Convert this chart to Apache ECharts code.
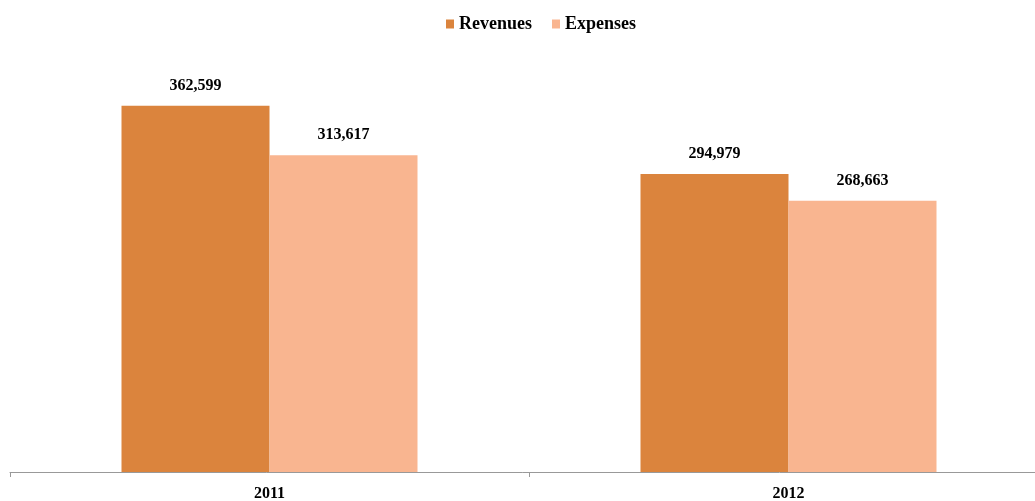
<!DOCTYPE html>
<html>
<head>
<meta charset="utf-8">
<script src="https://cdn.jsdelivr.net/npm/echarts@6/dist/echarts.min.js"></script>
<style>
  html, body { margin: 0; padding: 0; background: #fff; }
  #chart { width: 1035px; height: 501px; }
</style>
</head>
<body>
<div id="chart"></div>
<script>
  var years = ['2011', '2012'];
  var revenues = [362599, 294979];
  var expenses = [313617, 268663];

  var labelFont = {
    show: true,
    position: 'top',
    distance: 12,
    color: '#000',
    fontFamily: 'Liberation Serif',
    fontWeight: 'bold',
    fontSize: 16,
    formatter: function (p) { return p.value.toLocaleString('en-US'); }
  };

  var myChart = echarts.init(document.getElementById('chart'));
  var option = {
    animation: false,
    legend: {
      top: 10,
      left: 441,
      itemWidth: 8,
      itemHeight: 9,
      itemGap: 20,
      icon: 'rect',
      textStyle: { fontFamily: 'Liberation Serif', fontWeight: 'bold', fontSize: 18, color: '#000' },
      data: ['Revenues', 'Expenses']
    },
    grid: { left: 10, right: -13, top: 68, bottom: 29, outerBoundsMode: 'none' },
    xAxis: {
      type: 'category',
      data: years,
      axisLine: { lineStyle: { color: '#999' } },
      axisTick: { show: true, length: 5, lineStyle: { color: '#999' } },
      axisLabel: { margin: 14, color: '#000', fontFamily: 'Liberation Serif', fontWeight: 'bold', fontSize: 16 }
    },
    yAxis: {
      type: 'value',
      min: 0,
      max: 400000,
      show: false,
      splitLine: { show: false }
    },
    series: [
      {
        name: 'Revenues',
        type: 'bar',
        data: revenues,
        barWidth: 148,
        barGap: '0%',
        itemStyle: { color: '#DB843D' },
        label: labelFont
      },
      {
        name: 'Expenses',
        type: 'bar',
        data: expenses,
        barWidth: 148,
        itemStyle: { color: '#F9B590' },
        label: labelFont
      }
    ]
  };
  myChart.setOption(option, true);
</script>
</body>
</html>
